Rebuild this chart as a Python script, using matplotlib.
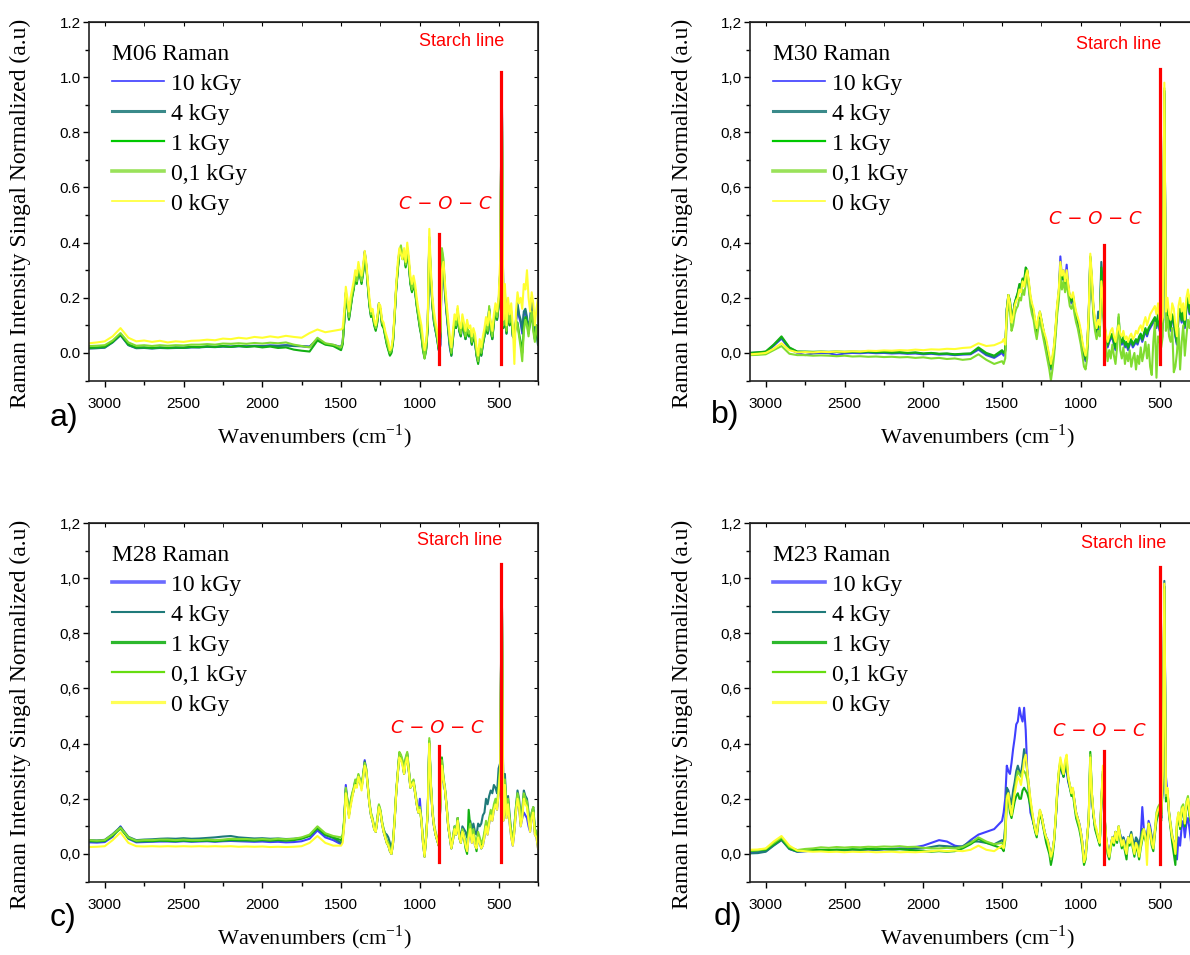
import numpy as np
import matplotlib.pyplot as plt
from matplotlib.lines import Line2D
from matplotlib.ticker import MultipleLocator, FuncFormatter, NullFormatter

plt.rcParams['mathtext.fontset'] = 'custom'
plt.rcParams['mathtext.rm'] = 'Liberation Serif'
plt.rcParams['mathtext.it'] = 'DejaVu Sans:italic'
SERIF = 'Liberation Serif'
SANS = 'Liberation Sans'

### wavenumber sampling (cm-1): coarse in the flat part, fine in the fingerprint part
wn = np.concatenate([np.arange(3100, 1500, -50), np.arange(1500, 249, -10)])

### intensities, in units of 0.001 (normalized a.u.)
## M06
a_10 = [17, 18, 20, 39, 66, 29, 18, 19, 17, 19,
        18, 19, 19, 21, 21, 23, 22, 24, 23, 25,
        24, 26, 25, 27, 26, 28, 26, 25, 23, 50,
        33, 29,
        22, 37, 118, 218, 178, 128, 168, 208, 238, 278,
        258, 308, 288, 258, 298, 368, 318, 248, 178, 138,
        148, 108, 88, 118, 178, 158, 108, 98, 68, 38,
        18, -2, 8, 48, 138, 238, 308, 368, 378, 348,
        368, 318, 378, 328, 258, 228, 258, 228, 178, 138,
        98, 68, 18, -12, 18, 98, 405, 270, 170, 110,
        80, 50, 10, 25, 340, 310, 210, 140, 80, 20,
        -10, 50, 110, 90, 150, 80, 60, 110, 80, 50,
        90, 60, 70, 30, 60, 40, -10, -35, 20, -10,
        30, 60, 100, 70, 155, 80, 50, 110, 150, 120,
        170, 290, 1000, 90, 205, 70, 160, 100, 140, 60,
        50, 110, 170, 130, 110, 70, 140, 150, 120, 80,
        110, 190, 140, 50, 90, 30]
a_4 = [16, 17, 19, 38, 64, 28, 17, 18, 16, 18,
       17, 18, 18, 20, 20, 22, 21, 23, 22, 24,
       23, 25, 24, 26, 25, 27, 25, 24, 22, 48,
       32, 28,
       20, 35, 115, 215, 175, 125, 165, 205, 235, 275,
       255, 305, 285, 255, 295, 365, 315, 245, 175, 135,
       145, 105, 85, 115, 175, 155, 105, 95, 65, 35,
       15, -5, 5, 45, 135, 235, 305, 365, 375, 345,
       365, 315, 375, 325, 255, 225, 255, 225, 175, 135,
       95, 65, 15, -15, 15, 95, 410, 275, 175, 115,
       85, 55, 15, 30, 360, 320, 220, 150, 90, 30,
       -5, 55, 115, 95, 155, 85, 65, 115, 85, 55,
       95, 65, 75, 35, 65, 45, -5, -30, 25, -5,
       35, 65, 105, 75, 160, 85, 55, 115, 155, 125,
       175, 295, 1000, 95, 210, 75, 165, 105, 145, 65,
       55, 115, 180, 140, 120, 80, 150, 160, 130, 90,
       120, 200, 150, 60, 100, 40]
a_1 = [18, 20, 22, 40, 68, 30, 20, 20, 18, 20,
       18, 20, 19, 22, 21, 24, 22, 25, 22, 26,
       22, 24, 20, 23, 18, 20, 12, 8, 5, 45,
       30, 25,
       10, 30, 110, 210, 170, 120, 160, 200, 230, 270,
       250, 300, 280, 250, 290, 350, 310, 240, 170, 130,
       140, 100, 80, 110, 180, 150, 100, 90, 60, 30,
       10, -10, 0, 40, 130, 230, 300, 360, 370, 340,
       360, 310, 370, 320, 250, 220, 250, 220, 170, 130,
       90, 60, 10, -20, 10, 90, 400, 270, 170, 110,
       80, 50, 10, 60, 370, 320, 220, 150, 90, 30,
       -10, 50, 110, 90, 150, 80, 60, 110, 80, 50,
       90, 60, 70, 30, 60, 40, -10, -40, 20, -10,
       30, 60, 100, 70, 160, 80, 50, 110, 150, 120,
       170, 290, 980, 90, 200, 70, 160, 100, 140, 60,
       60, 110, 110, 70, 40, 0, 90, 130, 110, 70,
       110, 140, 90, 50, 90, 30]
a_01 = [25, 26, 28, 45, 72, 38, 26, 28, 25, 28,
        26, 28, 27, 30, 30, 32, 30, 34, 33, 35,
        33, 36, 34, 37, 35, 38, 30, 25, 20, 55,
        35, 30,
        20, 40, 120, 220, 180, 130, 170, 210, 240, 280,
        260, 310, 290, 260, 300, 360, 320, 250, 180, 140,
        150, 110, 90, 120, 170, 160, 110, 100, 70, 40,
        20, 0, 10, 50, 140, 240, 310, 370, 390, 350,
        370, 320, 380, 330, 260, 230, 260, 230, 180, 140,
        100, 70, 20, -20, 20, 100, 420, 280, 180, 120,
        90, 60, 20, 70, 380, 340, 230, 160, 100, 40,
        0, 60, 120, 100, 160, 90, 70, 120, 90, 60,
        100, 70, 80, 40, 70, 50, 0, -30, 30, 0,
        40, 70, 110, 80, 170, 90, 60, 120, 160, 130,
        180, 300, 960, 100, 220, 80, 170, 110, 150, 70,
        50, 120, 100, 60, 20, -30, 80, 120, 100, 60,
        120, 150, 80, 40, 100, 60]
a_0 = [35, 38, 42, 60, 90, 55, 42, 45, 40, 44,
       38, 42, 40, 44, 45, 48, 46, 52, 50, 55,
       52, 58, 55, 60, 56, 62, 58, 55, 72, 85,
       75, 80,
       85, 90, 150, 240, 200, 150, 200, 230, 260, 300,
       280, 330, 300, 280, 320, 370, 330, 260, 200, 150,
       160, 120, 100, 130, 180, 170, 120, 110, 80, 60,
       40, 10, 20, 60, 150, 250, 330, 380, 360, 340,
       380, 330, 400, 350, 280, 250, 280, 250, 200, 160,
       130, 100, 50, 10, 40, 120, 450, 300, 200, 150,
       110, 80, 30, 80, 300, 330, 250, 180, 120, 60,
       20, 80, 140, 120, 170, 110, 90, 140, 110, 80,
       120, 90, 100, 60, 90, 70, 20, -10, 50, 20,
       60, 90, 130, 100, 150, 110, 80, 140, 180, 150,
       200, 340, 960, 120, 250, 100, 200, 140, 180, 100,
       -40, 150, 220, 180, 200, 160, 250, 230, 300, 200,
       150, 220, 180, 100, 160, 200]

## M30
b_10 = [-2, 0, 2, 26, 52, 15, 0, -8, -2, 0,
        -1, -8, -2, 0, -1, 1, -1, 0, -2, -1,
        -3, -2, -5, -3, -6, -5, -8, -6, -5, 12,
        -8, -18,
        0, -10, 5, 155, 205, 180, 120, 135, 175, 195,
        210, 240, 230, 260, 250, 295, 290, 240, 190, 160,
        140, 100, 70, 110, 140, 110, 80, 50, 30, 0,
        -30, -60, -30, 10, 80, 160, 210, 350, 270, 300,
        250, 320, 240, 200, 180, 200, 160, 130, 110, 90,
        60, 20, -10, -30, 10, 130, 340, 250, 150, 100,
        70, 100, 80, 280, 180, 90, 50, 20, 40, 50,
        60, 30, 10, 50, 90, 40, 30, 50, 20, 30,
        10, 30, 40, 20, 30, 40, 30, 50, 60, 40,
        60, 80, 60, 80, 90, 100, 110, 120, 90, 130,
        80, 70, 90, 940, 110, 150, 100, 80, 130, 110,
        60, 30, 130, 150, 110, 140, 90, 160, 190, 140,
        180, 140, 110, 160, 140, 120]
b_4 = [0, 2, 4, 28, 55, 18, 4, 3, 2, 3,
       2, 3, 2, 3, 2, 3, 1, 2, 0, 1,
       -1, 0, -3, -1, -4, -3, -6, -4, -3, 15,
       -5, -15,
       5, 0, 10, 160, 210, 185, 125, 140, 180, 200,
       215, 245, 235, 265, 255, 300, 295, 245, 195, 165,
       145, 105, 75, 115, 145, 115, 85, 55, 35, 5,
       -25, -55, -25, 15, 85, 165, 215, 310, 265, 285,
       245, 285, 235, 195, 185, 205, 165, 135, 115, 95,
       65, 25, -5, -25, 15, 135, 345, 255, 155, 105,
       75, 150, 120, 330, 240, 100, 55, 25, 45, 55,
       65, 35, 15, 55, 100, 45, 35, 55, 25, 35,
       15, 35, 45, 25, 35, 45, 35, 55, 65, 45,
       65, 85, 65, 85, 95, 105, 115, 125, 95, 135,
       85, 75, 95, 950, 115, 155, 105, 85, 135, 115,
       65, 35, 135, 155, 115, 145, 95, 165, 195, 145,
       185, 145, 115, 165, 145, 125]
b_1 = [0, 2, 5, 30, 60, 20, 5, 5, 4, 5,
       4, 5, 4, 5, 4, 5, 3, 4, 2, 3,
       0, 2, -2, 0, -3, -2, -5, -3, -2, 20,
       0, -10,
       10, 0, 10, 160, 210, 190, 130, 140, 180, 200,
       220, 250, 240, 270, 260, 310, 300, 250, 200, 170,
       150, 110, 80, 120, 150, 120, 90, 60, 40, 10,
       -20, -50, -20, 20, 90, 170, 220, 320, 270, 290,
       250, 290, 240, 200, 190, 210, 170, 140, 120, 100,
       70, 30, 0, -20, 20, 140, 350, 260, 160, 110,
       80, 110, 90, 310, 190, 100, 60, 30, 50, 60,
       70, 40, 20, 60, 130, 50, 40, 60, 30, 40,
       20, 40, 50, 30, 40, 50, 40, 60, 70, 50,
       70, 90, 70, 90, 100, 110, 120, 130, 100, 140,
       90, 80, 100, 950, 120, 160, 110, 90, 140, 120,
       70, 40, 140, 160, 120, 150, 100, 170, 200, 150,
       190, 150, 120, 170, 150, 130]
b_01 = [-8, -7, -5, 10, 25, -3, -8, -8, -10, -9,
        -10, -12, -10, -13, -12, -14, -13, -15, -14, -16,
        -15, -18, -16, -20, -18, -22, -20, -25, -22, -5,
        -25, -40,
        -30, -40, -20, 120, 180, 150, 80, 100, 140, 160,
        170, 200, 190, 230, 210, 250, 280, 230, 170, 140,
        120, 80, 50, 90, 120, 90, 60, 30, 0, -30,
        -60, -100, -60, -10, 60, 140, 190, 280, 230, 260,
        220, 260, 210, 170, 160, 180, 140, 110, 90, 60,
        30, -10, -50, -60, -20, 100, 330, 240, 130, 80,
        50, 80, 60, 220, 150, 60, 20, -30, 10, -20,
        30, -10, -40, 20, 140, 10, -20, 20, -40, 0,
        -30, 10, -50, -20, 0, -60, -10, -40, 20, -30,
        0, 40, -20, 30, -50, -80, 40, 110, -90, 60,
        40, 20, 60, 960, 80, 130, 60, 40, 90, -70,
        -50, 0, 90, -60, 40, 100, -10, 60, 120, 90,
        140, 100, 60, 120, 100, 80]
b_0 = [-5, -3, 0, 15, 35, 10, 2, 3, 2, 4,
       3, 5, 4, 6, 5, 8, 7, 9, 8, 10,
       9, 12, 10, 13, 12, 15, 14, 18, 20, 35,
       25, 28,
       40, 50, 30, 150, 210, 180, 110, 130, 170, 190,
       200, 230, 220, 260, 240, 280, 300, 260, 210, 180,
       160, 120, 90, 130, 150, 120, 90, 70, 50, 20,
       -10, -40, -10, 30, 100, 180, 230, 330, 280, 300,
       260, 300, 250, 210, 200, 220, 180, 150, 130, 110,
       80, 40, 10, -10, 30, 150, 360, 280, 170, 120,
       90, 120, 100, 260, 200, 110, 70, 40, 60, 80,
       90, 60, 40, 80, 100, 70, 60, 80, 50, 60,
       40, 60, 70, 50, 60, 80, 70, 90, 100, 80,
       110, 130, 100, 120, 140, 150, 160, 170, 140, 180,
       120, 110, 130, 980, 150, 200, 140, 120, 180, 160,
       100, 60, 170, 200, 150, 180, 120, 200, 230, 180,
       220, 180, 150, 200, 180, 160]

## M28
c_10 = [42, 41, 43, 62, 100, 55, 42, 43, 44, 45,
        45, 44, 46, 44, 45, 46, 44, 46, 47, 46,
        45, 44, 45, 43, 44, 42, 43, 46, 55, 85,
        60, 50,
        35, 50, 115, 250, 190, 140, 180, 210, 230, 260,
        250, 285, 265, 240, 280, 340, 300, 240, 180, 140,
        120, 90, 80, 120, 170, 150, 110, 80, 60, 40,
        30, 10, 0, 40, 120, 220, 290, 350, 340, 330,
        290, 340, 350, 300, 240, 250, 260, 220, 180, 150,
        200, 120, 40, -10, 60, 150, 400, 250, 150, 100,
        70, 50, 30, 180, 320, 270, 230, 170, 100, 60,
        20, 50, 90, 70, 120, 60, 40, 80, 60, 30,
        10, 60, 90, 40, 70, 30, 20, 60, 40, 20,
        30, 60, 100, 70, 110, 140, 120, 160, 180, 160,
        220, 300, 1000, 120, 250, 130, 180, 110, 60, 30,
        80, 150, 200, 170, 100, 130, 150, 140, 130, 100,
        80, 130, 150, 70, 60, 20]
c_4 = [50, 49, 51, 72, 98, 62, 50, 52, 53, 55,
       56, 55, 57, 55, 56, 58, 60, 63, 65, 60,
       58, 56, 57, 55, 56, 54, 55, 58, 66, 92,
       68, 58,
       40, 55, 120, 235, 195, 145, 185, 215, 235, 265,
       255, 285, 265, 245, 285, 335, 305, 245, 185, 145,
       125, 95, 85, 125, 175, 155, 115, 90, 75, 70,
       60, 40, 20, 50, 125, 225, 295, 365, 355, 335,
       295, 345, 365, 305, 245, 255, 265, 225, 185, 155,
       165, 125, 50, 0, 65, 155, 400, 250, 150, 100,
       70, 50, 30, 180, 330, 270, 230, 170, 100, 60,
       30, 60, 100, 80, 130, 80, 60, 100, 90, 80,
       60, 100, 120, 90, 110, 80, 70, 110, 100, 110,
       140, 150, 200, 180, 210, 230, 220, 250, 240, 220,
       310, 330, 1000, 150, 290, 160, 210, 140, 80, 50,
       100, 170, 230, 200, 130, 160, 230, 210, 200, 150,
       110, 150, 170, 90, 80, 40]
c_1 = [46, 45, 47, 66, 92, 57, 45, 46, 46, 48,
       47, 46, 48, 46, 47, 48, 46, 48, 50, 49,
       49, 48, 50, 48, 50, 48, 50, 55, 65, 95,
       70, 60,
       50, 60, 120, 230, 190, 140, 180, 210, 230, 260,
       250, 280, 260, 240, 280, 320, 300, 240, 180, 140,
       120, 90, 80, 120, 170, 150, 110, 80, 60, 40,
       30, 10, 0, 40, 120, 220, 290, 360, 350, 330,
       290, 340, 360, 300, 240, 250, 260, 220, 180, 150,
       160, 120, 40, -10, 60, 150, 410, 250, 150, 100,
       70, 50, 30, 180, 350, 270, 230, 170, 100, 60,
       20, 50, 90, 70, 130, 60, 40, 80, 60, 20,
       0, 160, 100, 50, 80, 40, 10, 70, 50, 20,
       40, 70, 110, 80, 120, 150, 130, 170, 190, 170,
       230, 310, 1000, 130, 260, 140, 190, 120, 70, 40,
       90, 160, 210, 180, 110, 140, 210, 190, 180, 130,
       90, 140, 160, 80, 70, 30]
c_01 = [50, 48, 50, 70, 95, 60, 48, 50, 50, 52,
        52, 50, 52, 50, 50, 52, 50, 52, 55, 54,
        54, 52, 54, 52, 55, 53, 55, 60, 70, 100,
        75, 65,
        60, 70, 130, 240, 200, 150, 190, 220, 240, 270,
        260, 290, 270, 250, 290, 330, 310, 250, 190, 150,
        130, 100, 90, 130, 180, 160, 120, 90, 70, 50,
        40, 20, 10, 50, 130, 230, 300, 370, 360, 340,
        300, 350, 370, 310, 250, 260, 270, 230, 190, 160,
        170, 130, 50, 0, 70, 160, 420, 260, 160, 110,
        80, 60, 40, 190, 340, 280, 240, 180, 110, 70,
        30, 60, 100, 80, 130, 70, 50, 90, 70, 40,
        20, 80, 110, 60, 90, 50, 40, 80, 60, 40,
        50, 80, 120, 90, 130, 160, 140, 180, 200, 180,
        240, 320, 1000, 140, 270, 150, 200, 130, 80, 50,
        100, 170, 220, 190, 120, 150, 220, 200, 190, 140,
        100, 150, 170, 90, 80, 40]
c_0 = [25, 26, 28, 50, 78, 40, 28, 27, 28, 27,
       28, 27, 28, 27, 28, 27, 28, 27, 28, 26,
       27, 26, 27, 25, 26, 25, 26, 28, 40, 65,
       40, 30,
       30, 40, 100, 220, 180, 130, 170, 200, 230, 250,
       240, 280, 260, 230, 270, 320, 300, 240, 180, 140,
       120, 90, 80, 120, 170, 150, 110, 80, 60, 40,
       30, 10, 0, 40, 120, 220, 290, 350, 340, 320,
       290, 330, 350, 300, 240, 250, 260, 220, 180, 150,
       160, 120, 40, -10, 60, 150, 400, 250, 150, 100,
       70, 50, 30, 180, 320, 270, 230, 170, 100, 60,
       20, 50, 90, 70, 120, 60, 40, 80, 60, 30,
       10, 60, 90, 40, 70, 30, 20, 60, 40, 20,
       30, 60, 100, 70, 110, 140, 120, 160, 180, 160,
       220, 300, 1000, 120, 250, 130, 180, 110, 60, 30,
       80, 150, 200, 170, 100, 130, 200, 180, 170, 120,
       80, 130, 150, 70, 60, 20]

## M23
d_10 = [5, 6, 10, 32, 52, 18, 8, 10, 12, 13,
        12, 14, 13, 15, 14, 16, 15, 17, 18, 20,
        20, 25, 30, 40, 50, 45, 30, 25, 50, 70,
        80, 90,
        120, 150, 200, 320, 300, 290, 330, 380, 420, 470,
        480, 530, 500, 480, 530, 450, 300, 220, 150, 130,
        110, 90, 70, 120, 150, 140, 110, 80, 60, 50,
        20, -10, 10, 50, 120, 210, 280, 320, 300, 280,
        310, 300, 260, 240, 220, 230, 190, 150, 130, 110,
        80, 40, -20, 0, 60, 120, 330, 210, 140, 100,
        80, 60, 40, 180, 290, 140, 60, 20, 0, 30,
        60, 50, 80, 60, 90, 70, 40, 60, 40, 20,
        60, 50, 70, 40, 20, 50, 40, 20, 60, 170,
        90, 70, 60, 120, 100, 60, 40, 80, 130, 150,
        160, 130, 250, 970, 280, 220, 150, 100, 60, 40,
        20, -20, 60, 30, 100, 120, 60, 110, 130, 90,
        40, 60, 110, 70, 80, 60]
d_4 = [2, 3, 8, 30, 50, 18, 8, 10, 12, 13,
       12, 14, 13, 15, 14, 16, 15, 17, 16, 18,
       17, 19, 20, 25, 30, 28, 25, 28, 45, 45,
       40, 35,
       50, 40, 100, 240, 230, 200, 180, 230, 260, 300,
       320, 300, 290, 330, 380, 340, 300, 250, 190, 150,
       110, 90, 70, 120, 150, 140, 110, 80, 60, 50,
       20, -10, 10, 50, 120, 220, 290, 330, 300, 280,
       320, 320, 270, 250, 220, 230, 190, 150, 130, 110,
       80, 40, -20, 0, 60, 120, 340, 210, 140, 100,
       80, 60, 40, 190, 300, 140, 60, 20, 0, 30,
       60, 50, 80, 60, 100, 70, 40, 60, 40, 30,
       60, 60, 80, 50, 30, 60, 50, 30, 60, 90,
       80, 70, 60, 110, 90, 60, 40, 80, 130, 150,
       160, 130, 270, 990, 200, 230, 150, 100, 60, 40,
       10, 100, 140, 100, 150, 160, 100, 170, 190, 140,
       110, 90, 170, 120, 140, 90]
d_1 = [10, 12, 15, 35, 55, 20, 10, 12, 14, 15,
       14, 16, 15, 17, 16, 18, 17, 18, 16, 17,
       15, 12, 10, 8, 10, 8, 10, 20, 35, 55,
       40, 30,
       20, 10, 50, 190, 200, 150, 130, 160, 190, 210,
       220, 200, 200, 230, 240, 230, 220, 200, 170, 140,
       110, 80, 60, 110, 140, 130, 100, 70, 40, 20,
       0, -40, -10, 40, 120, 220, 290, 330, 300, 280,
       320, 330, 270, 240, 210, 220, 170, 130, 110, 90,
       60, 20, -40, -20, 50, 130, 370, 220, 140, 90,
       70, 50, 30, 180, 290, 130, 50, 0, -20, 20,
       50, 30, 70, 40, 90, 50, 20, 40, 10, -20,
       50, 30, 60, 20, -10, 30, 10, -20, 20, 50,
       70, 50, 30, 100, 70, 30, 10, 70, 120, 140,
       150, 120, 260, 970, 190, 220, 140, 90, 40, 0,
       -40, 100, 140, 90, 150, 160, 100, 170, 190, 140,
       110, 90, 170, 120, 140, 90]
d_01 = [12, 14, 18, 40, 60, 25, 14, 18, 20, 24,
        22, 25, 23, 25, 24, 26, 25, 27, 26, 28,
        25, 26, 22, 20, 20, 22, 20, 25, 40, 60,
        45, 35,
        40, 30, 80, 210, 220, 170, 150, 190, 230, 270,
        300, 290, 280, 300, 300, 290, 270, 230, 190, 150,
        120, 90, 70, 120, 160, 140, 110, 80, 60, 40,
        20, -20, 10, 50, 130, 230, 300, 340, 310, 290,
        330, 340, 280, 250, 220, 230, 180, 140, 120, 100,
        70, 30, -30, -10, 60, 130, 360, 220, 150, 100,
        80, 60, 40, 190, 300, 140, 60, 10, -10, 30,
        60, 40, 80, 50, 100, 60, 30, 50, 30, 10,
        60, 40, 70, 30, 10, 40, 30, 0, 40, 80,
        90, 60, 40, 110, 80, 50, 30, 90, 150, 170,
        180, 150, 280, 960, 210, 230, 150, 110, 70, 40,
        10, 110, 150, 110, 170, 180, 120, 190, 210, 160,
        130, 110, 200, 140, 160, 110]
d_0 = [15, 16, 20, 45, 65, 30, 12, 10, 8, 9,
       7, 8, 6, 8, 7, 8, 6, 7, 8, 6,
       7, 6, 8, 10, 12, 10, 12, 10, 15, 30,
       15, 10,
       30, 20, 60, 200, 220, 170, 140, 180, 220, 250,
       280, 270, 250, 290, 340, 360, 300, 250, 200, 160,
       120, 90, 70, 120, 160, 140, 110, 80, 60, 50,
       20, -10, 10, 50, 130, 230, 300, 350, 320, 290,
       340, 360, 280, 250, 220, 240, 190, 150, 130, 110,
       80, 40, -30, -10, 60, 130, 350, 220, 150, 110,
       90, 60, 40, 200, 320, 150, 60, 20, -10, 30,
       60, 40, 80, 50, 100, 60, 30, 50, 20, 0,
       60, 40, 70, 30, 0, 40, 20, -10, 30, 60,
       90, 60, -40, 110, 80, 40, 20, 80, 140, 160,
       170, 140, 300, 980, 220, 240, 150, 100, 60, 40,
       0, 120, 150, 100, 160, 170, 110, 180, 200, 150,
       120, 100, 180, 130, 150, 100]

doses = ['10 kGy', '4 kGy', '1 kGy', '0,1 kGy', '0 kGy']
samples = ['M06 Raman', 'M30 Raman', 'M28 Raman', 'M23 Raman']
letters = ['a)', 'b)', 'c)', 'd)']
spectra = [[a_10, a_4, a_1, a_01, a_0],
           [b_10, b_4, b_1, b_01, b_0],
           [c_10, c_4, c_1, c_01, c_0],
           [d_10, d_4, d_1, d_01, d_0]]
coc_pos = [880, 850, 878, 850]
coc_top = [0.43, 0.39, 0.39, 0.375]
starch_pos = [487, 497, 487, 500]
starch_top = [1.02, 1.03, 1.05, 1.04]
mark_bottom = [-0.04, -0.04, -0.03, -0.035]

for s_list in spectra:
    for s in s_list:
        assert len(s) == len(wn), len(s)

line_colors = ['#4040ff', '#1f7a7a', '#12b012', '#80dc30', '#ffff30']
leg_styles = [[('#3b3bff', 1.2), ('#3a8a8a', 2.2), ('#00c800', 1.6), ('#9ae25a', 2.6), ('#ffff30', 1.2)],
              [('#6b6bff', 2.6), ('#1f7a7a', 1.5), ('#2db82d', 2.3), ('#66dd11', 1.6), ('#ffff55', 2.3)]]

W, H = 1190.0, 955.0
# axes boxes in pixels: left, top, width, height
boxes = [(89, 22, 449, 358.5), (750, 22, 449, 358.5),
         (89, 523, 449, 358.5), (750, 523, 449, 358.5)]
ylab_xy = [(20, 213), (682, 213), (20, 714), (682, 714)]
xlab_xy = [(314, 437), (977, 437), (314, 938), (977, 938)]
letter_xy = [(64, 418), (725, 415), (63, 918), (728, 917)]
starch_txt = [(735, 1.13), (761, 1.12), (745, 1.135), (729, 1.127)]
coc_txt = [(841, 0.54), (908, 0.485), (892, 0.455), (882, 0.445)]


def comma(v, pos):
    return ('%.1f' % v).replace('.', ',')


fig = plt.figure(figsize=(11.9, 9.55), dpi=100)
for i in range(4):
    l, t, w, h = boxes[i]
    ax = fig.add_axes([l / W, 1 - (t + h) / H, w / W, h / H])
    for vals, col in zip(spectra[i], line_colors):
        ax.plot(wn, np.array(vals) / 1000.0, color=col, lw=1.5)
    ax.plot([coc_pos[i], coc_pos[i]], [mark_bottom[i], coc_top[i]], color='#ff0000', lw=2.3, zorder=5)
    ax.plot([starch_pos[i], starch_pos[i]], [mark_bottom[i], starch_top[i]], color='#ff0000', lw=2.3, zorder=5)
    ax.text(starch_txt[i][0], starch_txt[i][1], 'Starch line', color='#ff0000', fontsize=13,
            family=SANS, ha='center', va='center')
    ax.text(coc_txt[i][0], coc_txt[i][1], 'C \u2212 O \u2212 C', color='#ff0000', fontsize=13,
            family='DejaVu Sans', style='italic', ha='center', va='center')

    ax.set_xlim(3100, 250)
    ax.set_ylim(-0.1, 1.2)
    ax.xaxis.set_major_locator(MultipleLocator(500))
    ax.xaxis.set_minor_locator(MultipleLocator(250))
    ax.yaxis.set_major_locator(MultipleLocator(0.2))
    ax.yaxis.set_minor_locator(MultipleLocator(0.1))
    if i > 0:
        ax.yaxis.set_major_formatter(FuncFormatter(comma))
    else:
        ax.yaxis.set_major_formatter(FuncFormatter(lambda v, p: '%.1f' % v))
    ax.tick_params(which='both', direction='out', width=1.0, labelsize=11)
    ax.tick_params(which='major', length=4)
    ax.tick_params(which='minor', length=3)
    ax.tick_params(axis='x', pad=8)
    ax.tick_params(axis='y', pad=2)
    for lab in ax.get_xticklabels() + ax.get_yticklabels():
        lab.set_family(SANS)
    for sp in ax.spines.values():
        sp.set_linewidth(1.2)
        sp.set_color('#222222')

    sx = ax.secondary_xaxis('top')
    sx.xaxis.set_major_locator(MultipleLocator(500))
    sx.xaxis.set_minor_locator(MultipleLocator(250))
    sx.xaxis.set_major_formatter(NullFormatter())
    sx.tick_params(which='both', direction='in', length=3)
    sy = ax.secondary_yaxis('right')
    sy.yaxis.set_major_locator(MultipleLocator(0.2))
    sy.yaxis.set_minor_locator(MultipleLocator(0.1))
    sy.yaxis.set_major_formatter(NullFormatter())
    sy.tick_params(which='both', direction='in', length=3)

    style = leg_styles[0] if i < 2 else leg_styles[1]
    handles = [Line2D([], [], color=c, lw=lw) for c, lw in style]
    ax.legend(handles, doses, title=samples[i], loc='upper left', bbox_to_anchor=(0.051, 0.94),
              frameon=False, prop={'family': SERIF, 'size': 17},
              title_fontproperties={'family': SERIF, 'size': 17}, alignment='left',
              handlelength=2.2, handletextpad=0.3, labelspacing=0.36, borderpad=0, borderaxespad=0)

    fig.text(ylab_xy[i][0] / W, 1 - ylab_xy[i][1] / H, 'Raman Intensity Singal Normalized (a.u)',
             rotation=90, ha='center', va='center', fontsize=17, family=SERIF)
    fig.text(xlab_xy[i][0] / W, 1 - xlab_xy[i][1] / H, r'Wavenumbers (cm$^{-1}$)',
             ha='center', va='center', fontsize=16, family=SERIF)
    fig.text(letter_xy[i][0] / W, 1 - letter_xy[i][1] / H, letters[i],
             ha='center', va='center', fontsize=23, family=SANS)

fig.savefig('out.png', dpi=100)
